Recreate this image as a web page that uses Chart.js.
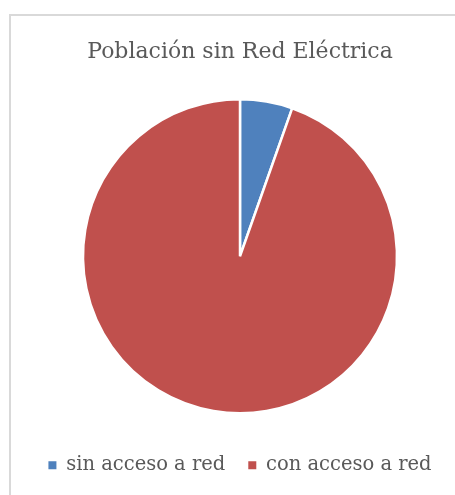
<!DOCTYPE html>
<html>
<head>
<meta charset="utf-8">
<script src="https://cdn.jsdelivr.net/npm/chart.js@4.4.0/dist/chart.umd.min.js"></script>
<style>
  html, body { margin: 0; padding: 0; background: #fff; overflow: hidden; }
  #frame { position: absolute; left: 9px; top: 14px; width: 470px; height: 510px; border: 2px solid #d9d9d9; box-sizing: border-box; }
  #wrap { position: absolute; left: 0; top: 0; width: 455px; height: 495px; }
</style>
</head>
<body>
<div id="frame"></div>
<div id="wrap"><canvas id="c" width="455" height="495"></canvas></div>
<script>
const categories = ['sin acceso a red', 'con acceso a red'];
const values = [5.4, 94.6];
const colors = ['#4F81BD', '#C0504D'];
const titleText = 'Población sin Red Eléctrica';

const FONT = "'DejaVu Serif', 'Liberation Serif', serif";

new Chart(document.getElementById('c'), {
  type: 'pie',
  data: {
    labels: categories,
    datasets: [{
      data: values,
      backgroundColor: colors,
      borderColor: '#ffffff',
      borderWidth: 2.5,
      radius: 157
    }]
  },
  options: {
    responsive: false,
    animation: false,
    layout: { padding: { left: 25, right: 0, top: 0, bottom: 10 } },
    plugins: {
      title: {
        display: true,
        text: titleText,
        color: '#595959',
        font: { family: FONT, size: 22, weight: 'normal' },
        padding: { top: 39.5, bottom: 14.1 }
      },
      legend: {
        position: 'bottom',
        labels: {
          color: '#595959',
          font: { family: FONT, size: 19.5 },
          boxWidth: 8,
          boxHeight: 8,
          padding: 23,
          generateLabels: function (chart) {
            const items = Chart.controllers.pie.overrides.plugins.legend.labels.generateLabels(chart);
            items.forEach(it => { it.lineWidth = 0; it.strokeStyle = 'rgba(0,0,0,0)'; });
            return items;
          }
        }
      },
      tooltip: { enabled: false }
    }
  }
});
</script>
</body>
</html>
